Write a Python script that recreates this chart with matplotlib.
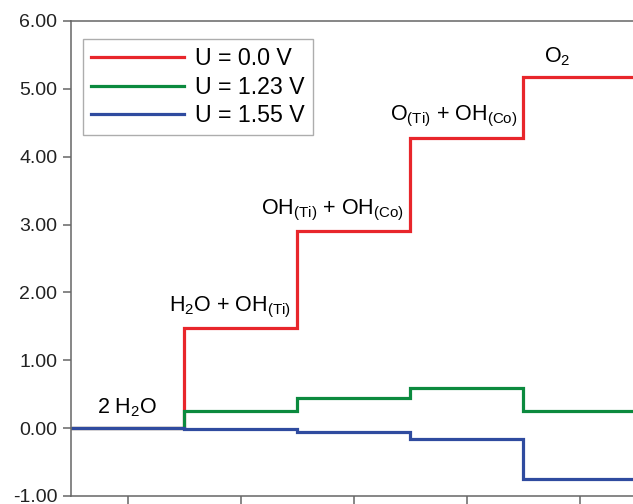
import numpy as np
import matplotlib.pyplot as plt

plt.rcParams['font.family'] = ['Liberation Sans', 'DejaVu Sans']
plt.rcParams['mathtext.fontset'] = 'custom'
plt.rcParams['mathtext.rm'] = 'Liberation Sans'
plt.rcParams['mathtext.it'] = 'Liberation Sans'

# free energy levels (eV) along the reaction steps
steps = [0, 1, 2, 3, 4]
g_u0 = [0.00, 1.47, 2.90, 4.28, 5.17]
g_u123 = [0.00, 0.25, 0.44, 0.59, 0.25]
g_u155 = [0.00, -0.01, -0.05, -0.16, -0.75]
series_labels = ['U = 0.0 V', 'U = 1.23 V', 'U = 1.55 V']
species = [r'2 H$_2$O',
           r'H$_2$O + OH$_{(\mathrm{Ti})}$',
           r'OH$_{(\mathrm{Ti})}$ + OH$_{(\mathrm{Co})}$',
           r'O$_{(\mathrm{Ti})}$ + OH$_{(\mathrm{Co})}$',
           r'O$_2$']

fig = plt.figure(figsize=(6.33, 5.04), dpi=100)
ax = fig.add_axes([0.1122, 0.0159, 0.8926, 0.9425])

edges = np.arange(len(steps) + 1) - 0.5
colors = ['#e8262b', '#0b8a3e', '#2f4b9f']
for vals, col, lab in zip([g_u0, g_u123, g_u155], colors, series_labels):
    ax.stairs(vals, edges, baseline=None, color=col, lw=2.3, label=lab)

# species labels above the U = 0 V levels
ax.text(steps[0], g_u0[0] + 0.13, species[0], ha='center', va='bottom', fontsize=15.5)
for i in (1, 2, 3):
    ax.text(steps[i] + 0.45, g_u0[i] + 0.13, species[i], ha='right', va='bottom', fontsize=15.5)
ax.text(steps[4] - 0.2, g_u0[4] + 0.13, species[4], ha='center', va='bottom', fontsize=15.5)

ax.set_xlim(edges[0], edges[-1])
ax.set_ylim(-1, 6)
ax.set_xticks(steps)
ax.set_xticklabels([])
ax.set_yticks(np.arange(-1, 7))
ax.set_yticklabels(['%.2f' % v for v in np.arange(-1, 7)])
ax.tick_params(axis='both', direction='out', length=6, width=1.1, color='#666666',
               labelsize=14, labelcolor='#222222', pad=4)
for s in ['left', 'bottom', 'top']:
    ax.spines[s].set_color('#666666')
    ax.spines[s].set_linewidth(1.1)
ax.spines['right'].set_visible(False)

leg = ax.legend(loc='upper left', bbox_to_anchor=(0.021, 0.962), fontsize=16.7,
                frameon=True, fancybox=False, handlelength=4.0, handletextpad=0.5,
                labelspacing=0.24, borderpad=0.35, borderaxespad=0)
leg.get_frame().set_edgecolor('#999999')
leg.get_frame().set_linewidth(1.0)

fig.savefig('out.png', dpi=100)
